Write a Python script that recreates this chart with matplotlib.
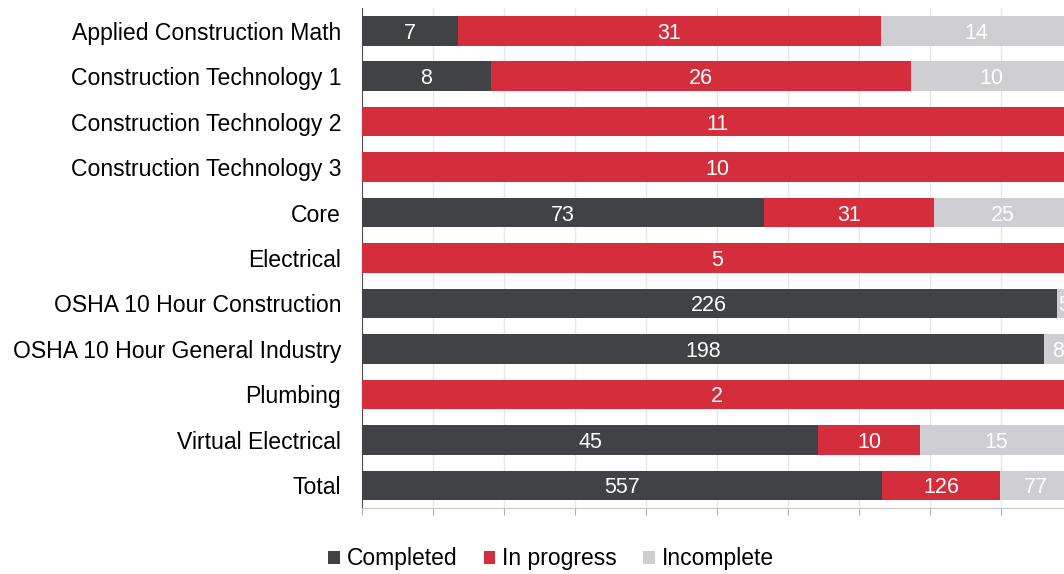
import matplotlib.pyplot as plt
import numpy as np

plt.rcParams['font.family'] = ['Liberation Sans', 'DejaVu Sans']

courses = ['Applied Construction Math', 'Construction Technology 1', 'Construction Technology 2',
           'Construction Technology 3', 'Core', 'Electrical', 'OSHA 10 Hour Construction',
           'OSHA 10 Hour General Industry', 'Plumbing', 'Virtual Electrical', 'Total']
completed = [7, 8, 0, 0, 73, 0, 226, 198, 0, 45, 557]
in_progress = [31, 26, 11, 10, 31, 5, 0, 0, 2, 10, 126]
incomplete = [14, 10, 0, 0, 25, 0, 5, 8, 0, 15, 77]

series = [('Completed', completed, '#404245'),
          ('In progress', in_progress, '#d42d3c'),
          ('Incomplete', incomplete, '#cfcfd3')]

totals = np.array(completed) + np.array(in_progress) + np.array(incomplete)
y = np.arange(len(courses))

fig = plt.figure(figsize=(10.64, 5.74), dpi=100)
# plot area runs a little past the right edge of the figure
ax = fig.add_axes([362/1064, 66/574, 710/1064, 500/574])

left = np.zeros(len(courses))
for name, vals, col in series:
    share = 100 * np.array(vals) / totals
    ax.barh(y, share, left=left, height=0.65, color=col, label=name, zorder=3)
    for i, v in enumerate(vals):
        if v > 0:
            ax.text(left[i] + share[i] / 2, y[i], str(v), ha='center', va='center_baseline',
                    color='white', fontsize=15.5, zorder=4)
    left += share

ax.set_xlim(0, 100)
ax.set_ylim(len(courses) - 0.5, -0.5)
ax.set_yticks(y)
ax.set_yticklabels(courses, fontsize=16.6)
ax.tick_params(axis='y', length=0, pad=15)
ax.set_xticks(np.arange(0, 101, 10))
ax.set_xticklabels([])
ax.tick_params(axis='x', length=5, color='#b0b0b0', direction='out')
ax.grid(axis='x', color='#e8e8e8', linewidth=1, zorder=0)

for s in ['top', 'right']:
    ax.spines[s].set_visible(False)
ax.spines['left'].set_color('#505050')
ax.spines['bottom'].set_color('#c8c8c8')

fig.legend(loc='center', bbox_to_anchor=(551/1064, 1 - 559/574), ncol=3, frameon=False,
           fontsize=16.5, handlelength=0.5, handleheight=0.5, handletextpad=0.3,
           columnspacing=1.15)

fig.savefig('out.png', dpi=100)
